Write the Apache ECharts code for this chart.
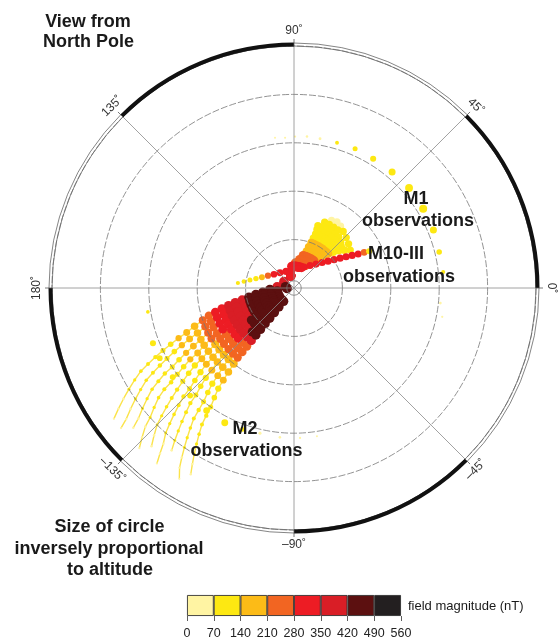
<!DOCTYPE html>
<html><head><meta charset="utf-8">
<script src="https://cdn.jsdelivr.net/npm/echarts/dist/echarts.min.js"></script>
<style>html,body{margin:0;padding:0;background:#fff}#c{width:560px;height:642px}</style>
</head><body><div id="c"></div>
<script>
// ---------------- data ----------------
const fieldBreaks = [0, 70, 140, 210, 280, 350, 420, 490, 560];
const fieldColors = ['#fff4a3', '#fde812', '#fcbb17', '#f26522', '#ed1c24', '#d91e26', '#5c1010', '#231f20'];
const angleTicks = [0, 45, 90, 135, 180, -135, -90, -45];
const angleTickLabels = ['0˚', '45˚', '90˚', '135˚', '180˚', '–135˚', '–90˚', '–45˚'];
const ringMax = 50;        // outer circle colatitude (deg)
const ringStep = 10;
const poleColat = 1.5;
const frameBlackArcs = [[0, 45], [90, 135], [-180, -135], [-90, -45]];
const frameDoubleArcs = [[45, 90], [135, 180], [-135, -90], [-45, 0]];

// each point: [longitude deg, colatitude deg, field nT, altitude km]
const m1Obs = [
  [97.2,31.3,45,1000],[93.4,31.1,45,950],[89.6,31.3,50,880],[85.1,31.4,55,800],
  [80.1,31.3,60,700],[73.5,31.3,90,520],[66.3,31.4,100,400],[58.5,31.3,105,330],
  [49.8,31.4,110,285],[41.0,31.5,110,255],[31.5,31.3,110,250],[22.6,31.2,105,285],
  [13.9,30.9,100,360],[6.1,31.0,75,500],[-5.9,30.4,55,750],[-11.0,31.2,45,900]
];
const m2Orbit = [
  [-170.7,30.6,80,550],[-158.6,31.3,105,330],[-152.4,31.3,105,350],[-143.7,31.1,100,340],
  [-134.0,30.9,100,340],[-125.5,31.1,100,300],[-117.2,31.3,100,290],[-110.0,31.1,90,420],
  [-103.2,30.8,65,650],[-95.4,31.0,55,780],[-87.7,31.0,45,880],[-81.2,31.0,40,1000]
];
const m10Obs = [
  [174.9,11.64,90,480],[172.6,10.44,105,440],[169.8,9.25,115,400],[166.1,8.10,135,370],
  [161.4,6.99,175,340],[154.7,5.95,230,320],[145.6,5.02,290,300],[132.6,4.28,320,290],
  [115.7,3.81,330,280],[96.3,3.77,330,280],[78.4,4.12,310,280],[64.5,4.81,300,280],
  [54.6,5.71,320,280],[47.4,6.72,330,280],[42.2,7.83,335,280],[38.2,8.96,340,280],
  [35.3,10.14,340,280],[32.9,11.34,335,280],[31.0,12.55,330,280],[29.3,13.77,320,280],
  [28.0,15.01,300,285],[26.9,16.25,240,300],[26.1,17.29,100,330]
];
// M2 tracks: inbound leg (upper right), crossing near pole, outbound fan (lower left)
const m2Inbound = [
  [[69,13.8,95,270],[68.5,13,105,265],[68,12,115,260],[68.5,11,135,255],[69,10,165,250],[70,9,185,245],[71,8,205,235],[74.5,7,225,230],[79,6,245,225],[87,5.2,265,220],[96,4.5,300,215]],
  [[65,15,75,275],[64.5,14,100,265],[64.5,13,105,265],[64.5,12,115,260],[65,11,135,255],[66,10,165,250],[67,9,185,245],[68.5,8,205,235],[72,7,225,230],[76,6,245,225],[84,5.2,265,220],[93,4.5,300,215]],
  [[61,16,60,280],[61,15,80,270],[61,14,100,265],[61,13,105,265],[61,12,115,260],[62,11,135,255],[63,10,165,250],[64.5,9,185,245],[66,8,205,235],[69.5,7,225,230],[73.5,6,245,225],[81,5.2,265,220],[90,4.5,300,215]],
  [[57,16.3,55,280],[57,15,80,270],[57,14,100,265],[57,13,105,265],[57.5,12,115,260],[58.5,11,135,255],[60,10,165,250],[61.5,9,185,245],[63,8,205,235],[67,7,225,230],[71,6,245,225],[78,5.2,265,220],[86.5,4.5,300,215]],
  [[53,16,60,280],[53,15,80,270],[53,14,100,265],[53.5,13,105,265],[54,12,115,260],[55.5,11,135,255],[57,10,165,250],[58.5,9,185,245],[60.5,8,205,235],[64,7,225,230],[68,6,245,225],[75,5.2,265,220],[83,4.5,300,215]],
  [[49,15.5,70,275],[49,14,100,265],[49.5,13,105,265],[50.5,12,115,260],[52,11,135,255],[54,10,165,250],[56,9,185,245],[58,8,205,235],[61.5,7,225,230],[65,6,245,225],[72,5.2,265,220],[80,4.5,300,215]],
  [[44,15,80,275],[44.5,13.5,100,265],[47,12,115,260],[49,11,135,255],[51,10,165,250],[53,9,185,245],[55,8,205,235],[59,7,225,230],[62.5,6,245,225],[69,5.2,265,220],[76.5,4.5,300,215]],
  [[39,14.5,90,270],[41.5,13,105,265],[43.5,12,115,260],[45.5,11,135,255],[48,10,165,250],[50,9,185,245],[52.5,8,205,235],[56,7,225,230],[60,6,245,225],[66,5.2,265,220],[73,4.5,300,215]],
  [[34,14,95,270],[37,13,105,265],[40,12,115,260],[42.5,11,135,255],[45,10,165,250],[47.5,9,185,245],[50,8,205,235],[53.5,7,225,230],[57,6,245,225],[63,5.2,265,220],[70,4.5,300,215]]
];
const m2Crossing = [105, 2.6, 340, 215];
const m2Apex = [
  [146.6,2.5,400,215],[151.4,2.36,400,215],[156.2,2.22,400,215],[161,2.08,400,215],[165.8,1.95,400,215],
  [170.6,1.8,440,215],[175.4,1.67,440,215],[-179.8,1.53,440,215],[-175,1.4,440,215]
];
const m2FanColat = [3.5,5,6.5,8,9.5,11,12.5,14,15.5,17,18.5,20,22,24,26,28,30,32,34,36,38,40,42,44,46];
const m2FanAlt   = [210,205,205,205,210,215,215,220,225,230,240,250,265,290,320,360,400,450,500,560,620,680,750,820,900];
const m2FanLon = [
  [176,-176,-172,-170,-168.5,-167,-166,-165,-164,-163,-162,-160.5,-159,-157.5,-156.5,-155.5,-154.5,-153.5,-152.5,-151.5,-150,-148.5,-147,-145.5,-144],
  [-177,-170,-166.5,-165,-163.5,-162,-161.5,-160.5,-159.5,-159,-158,-156.5,-155,-154,-153,-152,-151,-150,-149,-148,-146.5,-145,-143.5,-142,-141],
  [-170,-164,-161,-160,-158.5,-157.5,-157,-156,-155,-154.5,-154,-152.5,-151,-150,-149,-148,-147,-146.5,-145.5,-144.5,-143,-141.5,-140,-139,null],
  [-163,-158.5,-156,-154.5,-153.5,-153,-152,-151.5,-151,-150,-149.5,-148.5,-147.5,-146,-145.5,-144.5,-143.5,-142.5,-142,-141,-139.5,-138,-137,-135.5,-134],
  [-156,-152.5,-150.5,-149.5,-149,-148,-147.5,-147,-146.5,-146,-145.5,-144.5,-143.5,-142.5,-142,-141,-140,-139,-138,-137,-136,-135,-133.5,-132,null],
  [-149,-146.5,-145,-144.5,-144,-143,-143,-142.5,-142,-142,-141.5,-140.5,-139.5,-139,-138,-137,-136,-135.5,-134.5,-133.5,-132.5,-131.5,-130,-129,-128],
  [-142,-141,-140,-139,-139,-138.5,-138,-138,-138,-137.5,-137,-136.5,-136,-135,-134.5,-133.5,-132.5,-132,-131,-130,-129,-128,-127,null,null],
  [-135,-135,-134.5,-134,-134,-134,-133.5,-133.5,-133.5,-133,-133,-132.5,-132,-131,-130.5,-129.5,-128.5,-128,-127.5,-126.5,-125.5,-124.5,-123.5,-122.5,-121],
  [-128,-129,-129,-129,-129,-129,-129,-129,-129,-129,-129,-128.5,-128,-127.5,-127,-126,-125,-124.5,-124,-123,-122,-121,-120,-119,null]
];
const m2FanField = [
  [400,460,470,465,455,390,395,375,330,315,245,230,170,160,150,120,110,105,100,95,90,80,60,50,40],
  [400,460,470,465,455,390,395,375,330,315,245,230,170,160,150,120,110,105,100,95,90,80,60,50,40],
  [450,460,470,465,455,390,395,375,330,315,245,230,170,160,150,120,110,105,100,95,90,80,60,50,null],
  [450,460,470,465,455,390,395,375,330,315,245,230,170,160,150,120,110,105,100,95,90,80,60,50,40],
  [450,460,470,465,455,390,395,375,330,245,245,180,170,160,130,120,110,105,100,95,90,80,60,50,null],
  [450,460,470,465,455,445,395,375,330,245,245,180,170,160,130,120,110,105,100,95,90,80,60,50,40],
  [450,460,470,465,455,445,395,375,330,245,245,180,170,160,130,120,110,105,100,95,90,80,60,null,null],
  [450,460,470,465,455,445,440,375,255,245,245,180,170,160,130,120,110,105,100,95,90,80,60,50,40],
  [450,460,470,465,455,445,440,375,255,245,245,180,170,160,130,120,110,105,100,95,90,80,60,50,null]
];

// ---------------- build ----------------
const SIZE_K = 2000; // symbol size inversely proportional to altitude
const FONT = '"Liberation Sans", Arial, Helvetica, sans-serif';
function colorFor(b) {
  for (let i = 0; i < fieldColors.length; i++) if (b < fieldBreaks[i + 1]) return fieldColors[i];
  return fieldColors[fieldColors.length - 1];
}
function toPolar(p) { return [p[1], p[0], p[2], p[3]]; } // [radius(colat), angle(lon), field, alt]

const m2Points = [];
const m2Lines = [];
for (let k = 0; k < m2Inbound.length; k++) {
  m2Inbound[k].forEach(p => m2Points.push(toPolar(p)));
  m2Points.push(toPolar(m2Crossing));
  m2Points.push(toPolar(m2Apex[k]));
  const line = [];
  m2FanColat.forEach((c, i) => {
    const lon = m2FanLon[k][i];
    if (lon == null) return;
    const p = toPolar([lon, c, m2FanField[k][i], m2FanAlt[i]]);
    m2Points.push(p);
    if (c >= 20) line.push(p);
  });
  m2Lines.push(line);
}
// stronger field drawn on top
m2Points.sort((a, b) => a[2] - b[2]);

function scatter(data, z) {
  return {
    type: 'scatter', coordinateSystem: 'polar', data: data, z: z, silent: true,
    symbolSize: v => SIZE_K / v[3],
    itemStyle: { color: p => colorFor(p.value[2]), opacity: 1 }
  };
}

function renderFrame(params, api) {
  const c = api.coord([0, 0]);
  const e = api.coord([ringMax, 0]);
  const R = Math.hypot(e[0] - c[0], e[1] - c[1]);
  const rad = Math.PI / 180;
  const kids = [];
  const arcEl = (a1, a2, r, w, col) => ({
    type: 'arc',
    shape: { cx: c[0], cy: c[1], r: r, startAngle: -a2 * rad, endAngle: -a1 * rad, clockwise: true },
    style: { stroke: col, lineWidth: w, fill: 'none' }
  });
  frameDoubleArcs.forEach(a => kids.push(arcEl(a[0], a[1], R + 3, 0.8, '#666')));
  frameBlackArcs.forEach(a => kids.push(arcEl(a[0], a[1], R + 1.5, 4, '#111')));
  angleTicks.forEach((t, i) => {
    const ca = Math.cos(t * rad), sa = Math.sin(t * rad);
    kids.push({ type: 'line', shape: { x1: c[0] + R * ca, y1: c[1] - R * sa, x2: c[0] + (R + 7) * ca, y2: c[1] - (R + 7) * sa },
      style: { stroke: '#555', lineWidth: 0.8 } });
    let rot = t - 90;
    if (rot < -180) rot += 360;
    if (rot < -90) rot += 180;
    if (rot > 90) rot -= 180;
    const lr = R + 15;
    kids.push({ type: 'text', x: c[0] + lr * ca, y: c[1] - lr * sa, rotation: rot * rad,
      style: { text: angleTickLabels[i], x: 0, y: 0, fill: '#333', font: '12px ' + FONT,
        textAlign: 'center', textVerticalAlign: 'middle', align: 'center', verticalAlign: 'middle' } });
  });
  const p = api.coord([poleColat, 0]);
  kids.push({ type: 'circle', shape: { cx: c[0], cy: c[1], r: Math.hypot(p[0] - c[0], p[1] - c[1]) },
    style: { stroke: '#777', lineWidth: 0.8, fill: 'none' } });
  return { type: 'group', children: kids };
}

function label(text, x, y, size, weight, align) {
  return { type: 'text', x: x, y: y, z: 100, silent: true,
    style: { text: text, font: (weight || 'bold') + ' ' + size + 'px ' + FONT, fill: '#1a1a1a',
      textAlign: align || 'center', align: align || 'center', textVerticalAlign: 'middle', verticalAlign: 'middle' } };
}

const series = [];
m2Lines.forEach(d => series.push({ type: 'line', coordinateSystem: 'polar', data: d, symbol: 'none', silent: true,
  lineStyle: { color: '#fbe34a', width: 1.4 }, z: 2 }));
series.push(scatter(m2Points, 3));
series.push(scatter(m2Orbit.map(toPolar), 4));
series.push(scatter(m1Obs.map(toPolar), 4));
series.push(scatter(m10Obs.map(toPolar), 5));
series.push({ type: 'custom', coordinateSystem: 'polar', data: [[0, 0]], renderItem: renderFrame, z: 20, silent: true, clip: false });
fieldColors.forEach((col, i) => series.push({
  type: 'bar', xAxisIndex: 0, yAxisIndex: 0, stack: 'cb', silent: true, barWidth: 21,
  data: [fieldBreaks[i + 1] - fieldBreaks[i]],
  itemStyle: { color: col, borderColor: '#333', borderWidth: 0.9 }
}));

const option = {
  animation: false,
  backgroundColor: '#fff',
  polar: { center: [294, 288], radius: 242 },
  angleAxis: {
    type: 'value', min: -180, max: 180, interval: 45, startAngle: 180, clockwise: false, z: 10,
    axisLine: { show: true, lineStyle: { color: '#666', width: 0.8 } },
    axisTick: { show: false }, axisLabel: { show: false },
    splitLine: { show: true, lineStyle: { color: '#8a8a8a', width: 0.8 } }
  },
  radiusAxis: {
    type: 'value', min: 0, max: ringMax, interval: ringStep, z: 10,
    axisLine: { show: false }, axisTick: { show: false }, axisLabel: { show: false },
    splitLine: { show: true, lineStyle: { color: '#777', width: 0.8, type: [7, 2] } }
  },
  grid: { left: 187, top: 595, width: 214, height: 21, containLabel: false, outerBoundsMode: 'none' },
  xAxis: {
    type: 'value', min: fieldBreaks[0], max: fieldBreaks[fieldBreaks.length - 1], interval: 70, position: 'bottom',
    axisLine: { show: false }, splitLine: { show: false },
    axisTick: { show: true, length: 5, lineStyle: { color: '#333', width: 0.8 } },
    axisLabel: { show: true, fontSize: 12.5, color: '#222', margin: 11, fontFamily: FONT, showMinLabel: true, showMaxLabel: true }
  },
  yAxis: { type: 'category', data: ['field'], show: false },
  graphic: [
    label('View from', 88, 22.5, 18),
    label('North Pole', 88.5, 42.5, 18),
    label('M1', 416, 199.5, 18),
    label('observations', 418, 221.5, 18),
    label('M10-III', 396, 254.5, 18),
    label('observations', 399, 277.5, 18),
    label('M2', 245, 429.5, 18),
    label('observations', 246.5, 451.5, 18),
    label('Size of circle', 109.5, 527.5, 18),
    label('inversely proportional', 109, 549, 18),
    label('to altitude', 110, 570.5, 18),
    label('field magnitude (nT)', 408, 606, 13, 'normal', 'left')
  ],
  series: series
};
const chart = echarts.init(document.getElementById('c'));
chart.setOption(option);
</script>
</body></html>
